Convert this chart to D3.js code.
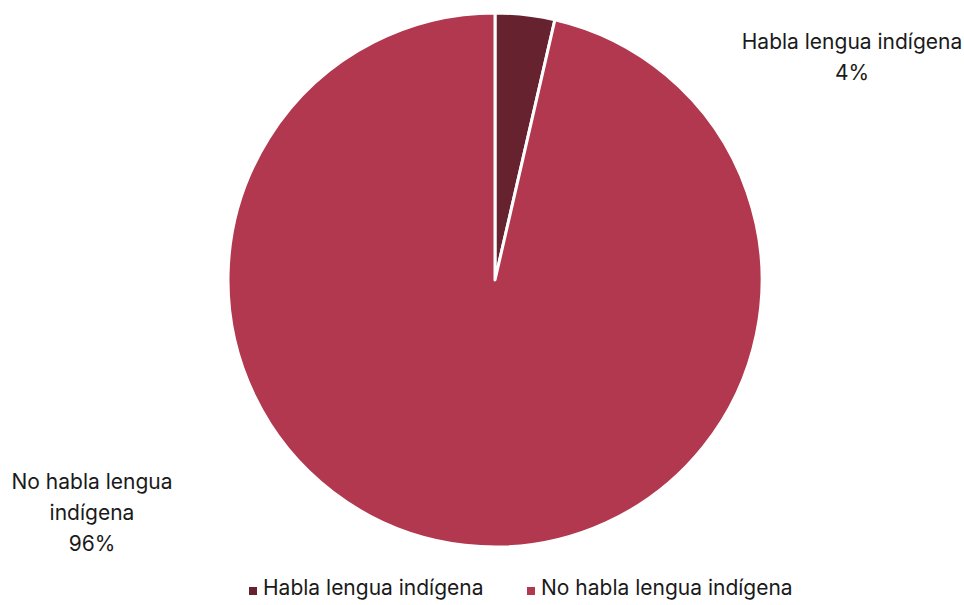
<!DOCTYPE html>
<html><head><meta charset="utf-8">
<script src="https://cdn.jsdelivr.net/npm/d3@7/dist/d3.min.js"></script>
<style>body{margin:0;background:#fff;} text{font-family:Inter, "Liberation Sans", sans-serif;fill:#1a1a1a;}</style>
</head><body><svg id="c" width="964" height="605"></svg>
<script>
const categories = ["Habla lengua indígena", "No habla lengua indígena"];
const values = [3.6, 96.4];
const percentLabels = ["4%", "96%"];
const colors = ["#66222E", "#B1384F"];

const svg = d3.select("#c");
const cx = 495, cy = 280, r = 267;
const pie = d3.pie().sort(null).value(d => d.v);
const arcs = pie(categories.map((c, i) => ({c, v: values[i], i})));
const arc = d3.arc().innerRadius(0).outerRadius(r);
const color = d3.scaleOrdinal().domain(categories).range(colors);

const g = svg.append("g").attr("transform", `translate(${cx},${cy})`);
g.selectAll("path").data(arcs).join("path")
  .attr("d", arc).attr("fill", d => color(d.data.c))
  .attr("stroke", "#fff").attr("stroke-width", 3).attr("stroke-linejoin", "round");

// data labels
const labelSpecs = [
  {x: 852, y: 49, lines: ["Habla lengua indígena", percentLabels[0]]},
  {x: 92, y: 489, lines: ["No habla lengua", "indígena", percentLabels[1]]}
];
labelSpecs.forEach(s => {
  const t = svg.append("text").attr("text-anchor", "middle").attr("font-size", 21);
  s.lines.forEach((l, k) => t.append("tspan").attr("x", s.x).attr("y", s.y + k * 31).text(l));
});

// legend
const legX = [249, 527];
const lg = svg.append("g");
categories.forEach((c, i) => {
  lg.append("rect").attr("x", legX[i]).attr("y", 587).attr("width", 8).attr("height", 8).attr("fill", color(c));
  lg.append("text").attr("x", legX[i] + 14).attr("y", 595).attr("font-size", 21).text(c);
});
</script></body></html>
